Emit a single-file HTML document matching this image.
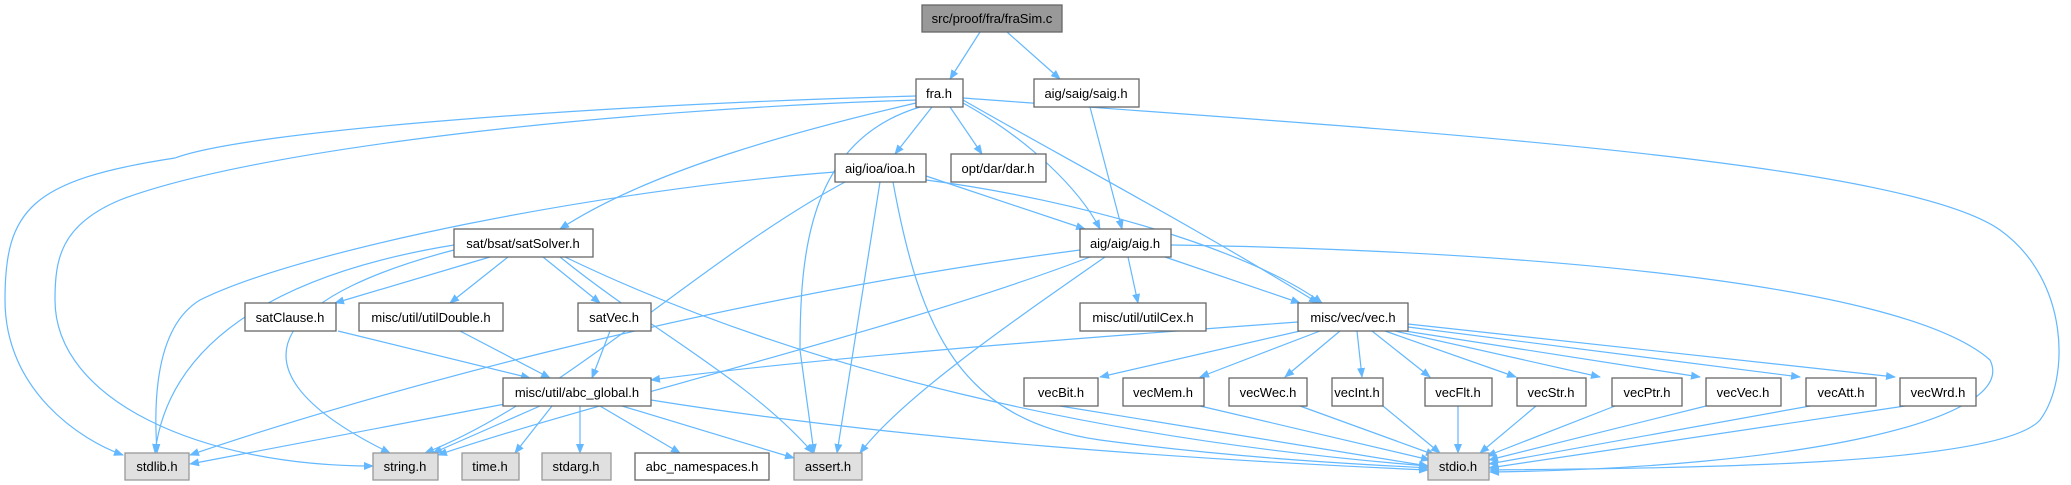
<!DOCTYPE html>
<html><head><meta charset="utf-8"><style>
html,body{margin:0;padding:0;background:#fff;}
svg{display:block;}
text{font-family:"Liberation Sans",Arial,sans-serif;font-size:13px;fill:#000;text-anchor:middle;}
.e{fill:none;stroke:#63b8ff;stroke-width:1.2;marker-end:url(#a);}
.n rect{fill:#fff;stroke:#666;stroke-width:1.3;}
.s rect{fill:#e0e0e0;stroke:#999;stroke-width:1.3;}
</style></head><body>
<svg width="2071" height="485" viewBox="0 0 2071 485" xmlns="http://www.w3.org/2000/svg">
<defs><marker id="a" markerWidth="10" markerHeight="10" refX="9" refY="5" orient="auto" markerUnits="userSpaceOnUse"><path d="M0,1 L10,5 L0,9 z" fill="#63b8ff"/></marker></defs>
<g>
<path class="e" d="M980,32 L950,79"/>
<path class="e" d="M1007,32 L1060,79"/>
<path class="e" d="M1090,107 L1122,229"/>
<path class="e" d="M916,96 C600,105 250,130 175,158 C30,180 5,210 5,300 C5,390 80,440 123,455"/>
<path class="e" d="M916,100 C600,110 250,150 120,200 C60,225 55,260 55,300 C55,400 200,466 373,466"/>
<path class="e" d="M916,103 C800,130 650,170 560,229"/>
<path class="e" d="M920,107 C810,140 800,250 800,350 L814,453"/>
<path class="e" d="M932,107 L895,154"/>
<path class="e" d="M950,107 L982,154"/>
<path class="e" d="M963,103 C1030,140 1080,190 1100,229"/>
<path class="e" d="M963,100 C1050,150 1200,230 1318,303"/>
<path class="e" d="M963,98 C1400,130 1900,160 2000,230 C2070,280 2070,380 2040,420 C2000,465 1700,468 1490,470"/>
<path class="e" d="M835,172 C600,190 300,250 200,300 C150,330 155,420 157,453"/>
<path class="e" d="M845,182 C700,260 560,400 425,453"/>
<path class="e" d="M880,182 L837,453"/>
<path class="e" d="M893,182 C920,330 960,420 1100,440 C1250,460 1380,465 1428,468"/>
<path class="e" d="M926,176 L1085,229"/>
<path class="e" d="M926,180 C1080,200 1250,250 1322,303"/>
<path class="e" d="M454,245 C300,270 170,330 155,453"/>
<path class="e" d="M454,250 C300,290 200,360 390,453"/>
<path class="e" d="M490,257 L335,303"/>
<path class="e" d="M508,257 L450,303"/>
<path class="e" d="M543,257 L600,303"/>
<path class="e" d="M560,257 C650,330 750,380 813,453"/>
<path class="e" d="M565,257 C800,370 1100,440 1428,466"/>
<path class="e" d="M338,331 L530,378"/>
<path class="e" d="M460,331 L550,378"/>
<path class="e" d="M610,331 L592,378"/>
<path class="e" d="M505,404 L190,464"/>
<path class="e" d="M540,406 L433,453"/>
<path class="e" d="M552,406 L515,453"/>
<path class="e" d="M580,406 L580,453"/>
<path class="e" d="M600,406 L680,453"/>
<path class="e" d="M622,406 L794,458"/>
<path class="e" d="M651,400 C900,440 1200,460 1428,470"/>
<path class="e" d="M1298,322 C1050,340 800,360 651,380"/>
<path class="e" d="M1080,250 C700,300 350,400 190,455"/>
<path class="e" d="M1090,257 C900,330 600,400 438,455"/>
<path class="e" d="M1105,257 C1000,330 900,400 860,453"/>
<path class="e" d="M1128,257 L1138,303"/>
<path class="e" d="M1165,257 L1300,303"/>
<path class="e" d="M1171,245 C1500,250 1900,280 1990,360 C2020,420 1800,468 1490,472"/>
<path class="e" d="M1300,331 L1100,377"/>
<path class="e" d="M1320,331 L1200,377"/>
<path class="e" d="M1340,331 L1285,377"/>
<path class="e" d="M1357,331 L1362,377"/>
<path class="e" d="M1372,331 L1430,377"/>
<path class="e" d="M1385,331 L1516,377"/>
<path class="e" d="M1395,331 L1600,377"/>
<path class="e" d="M1405,331 L1700,377"/>
<path class="e" d="M1408,327 L1800,377"/>
<path class="e" d="M1408,324 L1895,377"/>
<path class="e" d="M1060,406 L1428,466"/>
<path class="e" d="M1200,406 L1430,460"/>
<path class="e" d="M1300,406 L1435,455"/>
<path class="e" d="M1383,406 L1440,453"/>
<path class="e" d="M1458,406 L1458,453"/>
<path class="e" d="M1536,406 L1480,453"/>
<path class="e" d="M1615,406 L1487,456"/>
<path class="e" d="M1706,406 L1489,460"/>
<path class="e" d="M1810,406 L1489,464"/>
<path class="e" d="M1905,406 L1489,468"/>
</g>
<g class="n"><rect x="922" y="5" width="140" height="27" style="fill:#999"/><text x="992" y="23">src/proof/fra/fraSim.c</text></g>
<g class="n"><rect x="916" y="79" width="47" height="28"/><text x="939" y="98">fra.h</text></g>
<g class="n"><rect x="1034" y="79" width="105" height="28"/><text x="1086" y="98">aig/saig/saig.h</text></g>
<g class="n"><rect x="835" y="154" width="91" height="28"/><text x="880" y="173">aig/ioa/ioa.h</text></g>
<g class="n"><rect x="951" y="154" width="95" height="28"/><text x="998" y="173">opt/dar/dar.h</text></g>
<g class="n"><rect x="454" y="229" width="139" height="28"/><text x="523" y="248">sat/bsat/satSolver.h</text></g>
<g class="n"><rect x="1080" y="229" width="91" height="28"/><text x="1125" y="248">aig/aig/aig.h</text></g>
<g class="n"><rect x="245" y="303" width="91" height="28"/><text x="290" y="322">satClause.h</text></g>
<g class="n"><rect x="359" y="303" width="144" height="28"/><text x="431" y="322">misc/util/utilDouble.h</text></g>
<g class="n"><rect x="578" y="303" width="73" height="28"/><text x="614" y="322">satVec.h</text></g>
<g class="n"><rect x="1080" y="303" width="126" height="28"/><text x="1143" y="322">misc/util/utilCex.h</text></g>
<g class="n"><rect x="1298" y="303" width="110" height="28"/><text x="1353" y="322">misc/vec/vec.h</text></g>
<g class="n"><rect x="503" y="378" width="148" height="28"/><text x="577" y="397">misc/util/abc_global.h</text></g>
<g class="n"><rect x="1024" y="378" width="74" height="28"/><text x="1061" y="397">vecBit.h</text></g>
<g class="n"><rect x="1123" y="378" width="81" height="28"/><text x="1163" y="397">vecMem.h</text></g>
<g class="n"><rect x="1229" y="378" width="78" height="28"/><text x="1268" y="397">vecWec.h</text></g>
<g class="n"><rect x="1332" y="378" width="51" height="28"/><text x="1357" y="397">vecInt.h</text></g>
<g class="n"><rect x="1425" y="378" width="67" height="28"/><text x="1458" y="397">vecFlt.h</text></g>
<g class="n"><rect x="1517" y="378" width="69" height="28"/><text x="1551" y="397">vecStr.h</text></g>
<g class="n"><rect x="1612" y="378" width="70" height="28"/><text x="1647" y="397">vecPtr.h</text></g>
<g class="n"><rect x="1706" y="378" width="75" height="28"/><text x="1743" y="397">vecVec.h</text></g>
<g class="n"><rect x="1806" y="378" width="70" height="28"/><text x="1841" y="397">vecAtt.h</text></g>
<g class="n"><rect x="1900" y="378" width="76" height="28"/><text x="1938" y="397">vecWrd.h</text></g>
<g class="s"><rect x="125" y="453" width="64" height="27"/><text x="157" y="471">stdlib.h</text></g>
<g class="s"><rect x="373" y="453" width="65" height="27"/><text x="405" y="471">string.h</text></g>
<g class="s"><rect x="462" y="453" width="57" height="27"/><text x="490" y="471">time.h</text></g>
<g class="s"><rect x="542" y="453" width="69" height="27"/><text x="576" y="471">stdarg.h</text></g>
<g class="n"><rect x="635" y="453" width="134" height="27"/><text x="702" y="471">abc_namespaces.h</text></g>
<g class="s"><rect x="794" y="453" width="68" height="27"/><text x="828" y="471">assert.h</text></g>
<g class="s"><rect x="1428" y="453" width="61" height="27"/><text x="1458" y="471">stdio.h</text></g>
</svg>
</body></html>
